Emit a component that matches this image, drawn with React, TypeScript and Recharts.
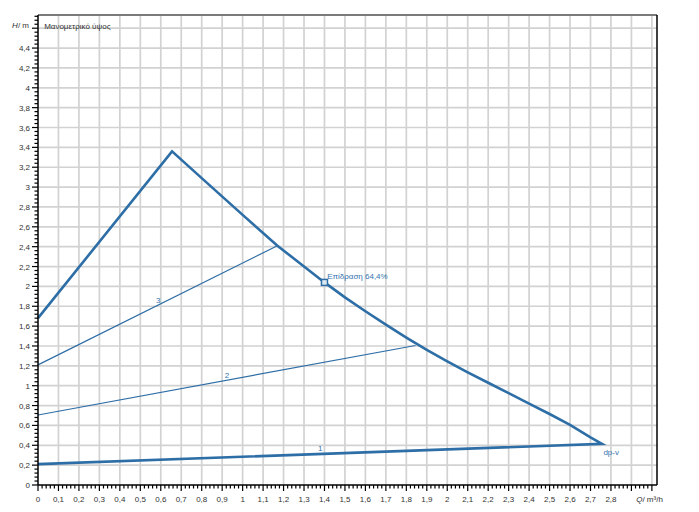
import { ComposedChart, Line, XAxis, YAxis, ReferenceLine, ReferenceDot } from 'recharts';

// Axis ranges
const Q_MAX = 3.025;
const H_MAX = 4.733;
const KPA_MAX = 46.37;

// Outer pump curve (max speed), closed back along constant curve 1
const outerQ = [0, 0.655, 0.8, 1.0, 1.17, 1.3, 1.4, 1.5, 1.6, 1.7, 1.8, 1.9, 2.0, 2.1, 2.2, 2.3, 2.4, 2.5, 2.6, 2.7, 2.756, 0];
const outerH = [1.68, 3.36, 3.09, 2.72, 2.41, 2.2, 2.04, 1.89, 1.75, 1.615, 1.485, 1.36, 1.245, 1.135, 1.03, 0.925, 0.82, 0.715, 0.605, 0.48, 0.415, 0.21];

// Control curves 2 and 3
const curve2Q = [0, 1.845];
const curve2H = [0.705, 1.405];
const curve3Q = [0, 1.17];
const curve3H = [1.21, 2.41];

// Duty point
const dutyQ = 1.4;
const dutyH = 2.04;

// Grid / tick values
const gridQ = Array.from({ length: 30 }, (_, i) => Number(((i + 1) * 0.1).toFixed(1)));
const gridH = Array.from({ length: 23 }, (_, i) => Number(((i + 1) * 0.2).toFixed(1)));
const qTicks = Array.from({ length: 151 }, (_, i) => Number((i * 0.02).toFixed(2)));
const hTicks = Array.from({ length: 119 }, (_, i) => Number((i * 0.04).toFixed(2)));
const kpaTicks = Array.from({ length: 116 }, (_, i) => Number((i * 0.4).toFixed(1)));

const toRows = (qs: number[], hs: number[]) => qs.map((q, i) => ({ q, h: hs[i] }));
const outerData = toRows(outerQ, outerH);
const curve2Data = toRows(curve2Q, curve2H);
const curve3Data = toRows(curve3Q, curve3H);

const BLUE = '#2e6ea6';
const LABEL_BLUE = '#3674b0';
const FONT = '"Liberation Sans", Arial, sans-serif';

const fmt = (v: number) => String(Number(v.toFixed(2))).replace('.', ',');

const XTick = ({ x, y, payload }: any) => {
  const i = Math.round(payload.value / 0.02);
  const major = i % 5 === 0;
  return (
    <g>
      <line x1={x} x2={x} y1={y} y2={y + (major ? 6 : 3.5)} stroke="#000" strokeWidth={1.2} />
      {major && i <= 140 && (
        <text x={x} y={y + 17} textAnchor="middle" fontSize={8} fontFamily={FONT} fill="#333">
          {fmt(payload.value)}
        </text>
      )}
      {i === 150 && (
        <text x={x + 11} y={y + 17} textAnchor="end" fontSize={8} fontFamily={FONT} fill="#333">
          <tspan fontStyle="italic">Q</tspan>/ m³/h
        </text>
      )}
    </g>
  );
};

const HTick = ({ x, y, payload }: any) => {
  const i = Math.round(payload.value / 0.04);
  const major = i % 5 === 0;
  return (
    <g>
      <line x1={x} x2={x - (major ? 6 : 3.5)} y1={y} y2={y} stroke="#000" strokeWidth={1.2} />
      {major && i < 115 && (
        <text x={x - 8} y={y + 3} textAnchor="end" fontSize={8} fontFamily={FONT} fill="#333">
          {fmt(payload.value)}
        </text>
      )}
      {i === 115 && (
        <text x={x - 9} y={y} textAnchor="end" fontSize={8} fontFamily={FONT} fill="#333">
          <tspan fontStyle="italic">H</tspan>/ m
        </text>
      )}
    </g>
  );
};

const KpaTick = ({ x, y, payload }: any) => {
  const i = Math.round(payload.value / 0.4);
  const major = i % 5 === 0;
  return (
    <g>
      <line x1={x} x2={x + (major ? 6 : 3.5)} y1={y} y2={y} stroke="#000" strokeWidth={1.2} />
      {major && i < 115 && (
        <text x={x + 8} y={y + 3} textAnchor="start" fontSize={8} fontFamily={FONT} fill="#333">
          {fmt(payload.value)}
        </text>
      )}
      {i === 115 && (
        <text x={x + 8} y={y + 6} textAnchor="start" fontSize={8} fontFamily={FONT} fill="#333">
          <tspan fontStyle="italic">Δp</tspan>/ kPa
        </text>
      )}
    </g>
  );
};

const textShape = (text: string, anchor: string, color: string, size = 8) => (p: any) => (
  <text x={p.cx} y={p.cy} dy={3} textAnchor={anchor} fontSize={size} fontFamily={FONT} fill={color}>
    {text}
  </text>
);

const squareShape = (p: any) => (
  <rect x={p.cx - 3} y={p.cy - 3} width={6} height={6} fill="#dce8f3" stroke={BLUE} strokeWidth={1.5} />
);

const App = () => (
  <div style={{ position: 'absolute', left: 0, top: 0, background: '#fff' }}>
    <ComposedChart width={699} height={512} margin={{ top: 15, right: 0, bottom: 0, left: 0 }}>
      <XAxis
        dataKey="q"
        type="number"
        domain={[0, Q_MAX]}
        ticks={qTicks}
        interval={0}
        height={27}
        tickSize={0}
        tickMargin={0}
        tick={<XTick />}
        axisLine={{ stroke: '#000', strokeWidth: 1.5 }}
        tickLine={false}
      />
      <YAxis
        yAxisId="h"
        type="number"
        domain={[0, H_MAX]}
        ticks={hTicks}
        interval={0}
        width={38}
        tickSize={0}
        tickMargin={0}
        tick={<HTick />}
        axisLine={{ stroke: '#000', strokeWidth: 1.5 }}
        tickLine={false}
      />
      <YAxis
        yAxisId="kpa"
        orientation="right"
        type="number"
        domain={[0, KPA_MAX]}
        ticks={kpaTicks}
        interval={0}
        width={42}
        tickSize={0}
        tickMargin={0}
        tick={<KpaTick />}
        axisLine={{ stroke: '#000', strokeWidth: 1.5 }}
        tickLine={false}
      />

      {gridQ.map((q) => (
        <ReferenceLine key={`gq${q}`} x={q} yAxisId="h" stroke="#d2d2d2" strokeWidth={1.7} />
      ))}
      {gridH.map((h) => (
        <ReferenceLine key={`gh${h}`} y={h} yAxisId="h" stroke="#d2d2d2" strokeWidth={1.7} />
      ))}
      <ReferenceLine y={H_MAX} yAxisId="h" stroke="#7a7a7a" strokeWidth={2} />

      <Line yAxisId="h" data={curve3Data} dataKey="h" stroke={BLUE} strokeWidth={1.2} dot={false} isAnimationActive={false} />
      <Line yAxisId="h" data={curve2Data} dataKey="h" stroke={BLUE} strokeWidth={1.2} dot={false} isAnimationActive={false} />
      <Line yAxisId="h" data={outerData} dataKey="h" stroke={BLUE} strokeWidth={2.6} dot={false} isAnimationActive={false} />

      <ReferenceDot yAxisId="h" x={dutyQ} y={dutyH} shape={squareShape} />
      <ReferenceDot yAxisId="h" x={1.413} y={2.1} shape={textShape('Επίδραση 64,4%', 'start', LABEL_BLUE)} />
      <ReferenceDot yAxisId="h" x={0.587} y={1.858} shape={textShape('3', 'middle', LABEL_BLUE)} />
      <ReferenceDot yAxisId="h" x={0.924} y={1.11} shape={textShape('2', 'middle', LABEL_BLUE)} />
      <ReferenceDot yAxisId="h" x={1.379} y={0.373} shape={textShape('1', 'middle', LABEL_BLUE)} />
      <ReferenceDot yAxisId="h" x={2.763} y={0.333} shape={textShape('dp-v', 'start', LABEL_BLUE)} />
      <ReferenceDot yAxisId="h" x={0.03} y={4.62} shape={textShape('Μανομετρικό ύψος', 'start', '#333')} />
    </ComposedChart>
  </div>
);

export default App;
